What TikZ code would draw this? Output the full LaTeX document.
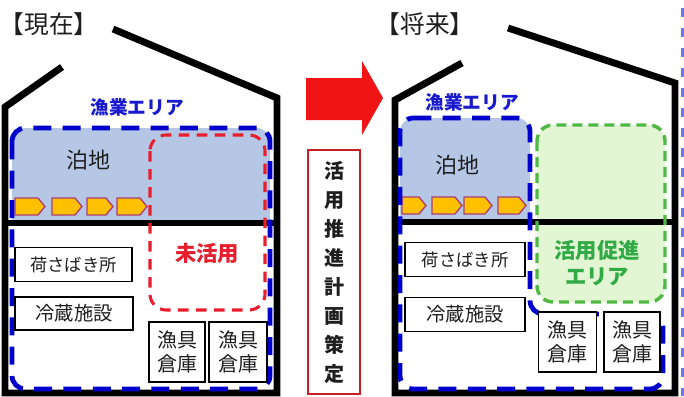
\documentclass[tikz,border=0pt]{standalone}
\usepackage{fontspec}
\setmainfont{Noto Sans CJK JP}
\definecolor{fillblue}{RGB}{182,199,230}
\definecolor{dashblue}{RGB}{0,0,204}
\definecolor{areablue}{RGB}{25,25,205}
\definecolor{mred}{RGB}{232,30,45}
\definecolor{mgreen}{RGB}{80,185,70}
\definecolor{lgreen}{RGB}{226,246,212}
\definecolor{gtext}{RGB}{50,170,70}
\definecolor{chevfill}{RGB}{255,192,0}
\definecolor{chevline}{RGB}{170,60,120}
\definecolor{arrowred}{RGB}{240,20,20}
\definecolor{boxred}{RGB}{200,30,40}
\definecolor{edgeblue}{RGB}{100,120,230}
\definecolor{txt}{RGB}{30,30,30}
\newcommand\chev[3]{\draw[chevstyle] (#1,#3) -- ({#2-7},#3) -- (#2,{#3+8.5}) -- ({#2-7},{#3+17}) -- (#1,{#3+17}) -- cycle;}
\begin{document}
\begin{tikzpicture}[x=0.75pt,y=-0.75pt,
  wall/.style={line width=5.2pt,black,line join=miter},
  bluedash/.style={draw=dashblue,line width=3.6pt,dash pattern=on 13.5pt off 8.5pt},
  reddash/.style={draw=mred,line width=2.3pt,dash pattern=on 8pt off 5.5pt},
  greendash/.style={draw=mgreen,line width=2.6pt,dash pattern=on 7.5pt off 4.5pt},
  chevstyle/.style={fill=chevfill,draw=chevline,line width=1pt,line join=miter},
  room/.style={draw=black,line width=0.9pt,fill=white,inner sep=0pt,text=txt,minimum height=26pt},
  gear/.style={draw=black,line width=0.9pt,fill=white,inner sep=0pt,text=txt,minimum height=45pt,align=center,font=\fontsize{15}{17.5}\selectfont},
  title/.style={font=\fontsize{18.5}{20}\selectfont,text=txt,inner sep=0pt},
  area/.style={font=\fontsize{14}{16}\selectfont\bfseries,text=areablue,inner sep=0pt},
  berth/.style={font=\fontsize{16.5}{18}\selectfont,text=txt,inner sep=0pt}]
\useasboundingbox (0,0) rectangle (684,396);
\fill[white] (0,0) rectangle (684,396);

% ---------- left house ----------
\fill[fillblue] (12,222) [rounded corners=10pt] -- (12,128) -- (270,128) -- (270,170) [sharp corners] -- (270,222) -- cycle;
\chev{15}{45}{198}
\chev{52}{82}{198}
\chev{87}{113}{198}
\chev{117}{147}{198}
\draw[wall] (62,67) -- (5,107) -- (5,393) -- (277,393) -- (277,98) -- (113,29);
\draw[line width=5pt,black] (5,223) -- (277,223);
\draw[bluedash,rounded corners=10pt] (12,128) rectangle (270,389);
\draw[reddash,rounded corners=12pt] (150,135) rectangle (265,310);

\node[title] (t1) at (49,24) {【現在】};
\node[area] (fa1) at (137,107) {漁業エリア};
\node[berth] (hk1) at (88,160) {泊地};
\node[font=\fontsize{16}{18}\selectfont\bfseries,text=mred,inner sep=0pt] (mk) at (207,253) {未活用};
\node[room,minimum width=87.75pt,font=\fontsize{13}{15}\selectfont] (ns1) at (73.5,264.5) {荷さばき所};
\node[room,minimum width=88.5pt,minimum height=24.75pt,font=\fontsize{14.5}{16}\selectfont] (rz1) at (74,313.5) {冷蔵施設};
\node[gear,minimum width=42pt] (g11) at (177,352) {漁具\\倉庫};
\node[gear,minimum width=43.5pt] (g12) at (238,352) {漁具\\倉庫};

% ---------- middle ----------
\fill[arrowred] (306,78) -- (362,78) -- (362,61) -- (383,98) -- (362,135) -- (362,120) -- (306,120) -- cycle;
\node[draw=boxred,line width=1.5pt,minimum width=39pt,minimum height=183pt,inner sep=0pt,align=center,
      font=\fontsize{15}{21.75}\selectfont\bfseries,text=txt] (plan) at (334,272)
      {活\\用\\推\\進\\計\\画\\策\\定};

% ---------- right house ----------
\fill[fillblue] (400,222) [rounded corners=10pt] -- (400,118) -- (530,118) -- (530,170) [sharp corners] -- (530,222) -- cycle;
\fill[lgreen,rounded corners=12pt] (537,125) rectangle (665,302);
\chev{402}{426}{197}
\chev{432}{462}{197}
\chev{464}{492}{197}
\chev{498}{526}{197}
\draw[wall] (462,63) -- (395,100) -- (395,393) -- (675,393) -- (675,83) -- (508,28);
\draw[line width=5pt,black] (395,222) -- (675,222);
\draw[bluedash,rounded corners=10pt] (400,118) -- (530,118) -- (530,314) -- (663,314) -- (663,389) -- (400,389) -- cycle;
\draw[greendash,rounded corners=12pt] (537,125) rectangle (665,302);

\node[title] (t2) at (425,24) {【将来】};
\node[area] (fa2) at (472,102) {漁業エリア};
\node[berth] (hk2) at (457,165) {泊地};
\node[font=\fontsize{16}{20}\selectfont\bfseries,text=gtext,inner sep=0pt,align=center] (kp) at (597,263) {活用促進\\エリア};
\node[room,minimum width=90pt,font=\fontsize{13}{15}\selectfont] (ns2) at (465,259.5) {荷さばき所};
\node[room,minimum width=90pt,font=\fontsize{14.5}{16}\selectfont] (rz2) at (465,314.5) {冷蔵施設};
\node[gear,minimum width=44pt] (g21) at (567.5,342) {漁具\\倉庫};
\node[gear,minimum width=42pt] (g22) at (632,342) {漁具\\倉庫};

% right-edge dashed strip
\draw[edgeblue,line width=2.8pt,dash pattern=on 7pt off 8pt] (683,8) -- (683,396);
\end{tikzpicture}
\end{document}
